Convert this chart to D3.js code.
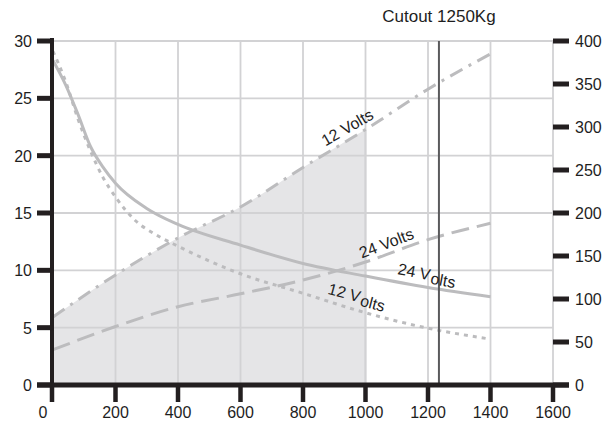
<!DOCTYPE html>
<html><head><meta charset="utf-8">
<script src="https://cdn.jsdelivr.net/npm/d3@7"></script>
<style>
html,body{margin:0;padding:0;background:#fff;}
svg{display:block;font-family:"Liberation Sans",Arial,Helvetica,sans-serif;}
</style></head>
<body>
<svg id="c" width="616" height="425"></svg>
<script>
// ---- data ----
const xTicks = [0,200,400,600,800,1000,1200,1400,1600];
const leftTicks = [0,5,10,15,20,25,30];
const rightTicks = [0,50,100,150,200,250,300,350,400];
const loadKg = [0,200,400,600,800,1000,1200,1400];
// right-axis series (dashed)
const dash12V = [79,128,171,207,253,297,344,385];
const dash24V = [41,68,91,106,122,143,169,188];
// left-axis series
const solid24X = [0,40,80,120,160,200,300,400,600,800,1000,1200,1400];
const solid24V = [28.3,26.2,23.6,20.8,19.0,17.6,15.4,14.0,12.2,10.6,9.5,8.5,7.7];
const dot12X = [0,40,80,120,160,200,265,330,400,600,800,1000,1200,1400];
const dot12V = [29.1,26.5,23.2,20.4,18.1,16.4,14.3,13.1,12.1,9.7,8.0,6.3,4.95,4.0];
const cutoutKg = 1235;
const shadeMaxKg = 1000;
const title = "Cutout 1250Kg";

// ---- scales ----
const svg = d3.select("#c");
const x = d3.scaleLinear().domain([0,1600]).range([53,553]);
const yL = d3.scaleLinear().domain([0,30]).range([385,41]);
const yR = d3.scaleLinear().domain([0,400]).range([385,41]);

const gridC = "#d2d2d4", lineC = "#bcbcbe", txtC = "#1e1e1e";

// grid
svg.append("g").selectAll("line").data(leftTicks.filter(d=>d>0)).join("line")
  .attr("x1",x(0)).attr("x2",x(1600)).attr("y1",d=>yL(d)).attr("y2",d=>yL(d))
  .attr("stroke",gridC).attr("stroke-width",1.8);
svg.append("g").selectAll("line").data(xTicks.filter(d=>d>0)).join("line")
  .attr("x1",d=>x(d)).attr("x2",d=>x(d)).attr("y1",yL(30)).attr("y2",yL(0))
  .attr("stroke",gridC).attr("stroke-width",1.8);

// shaded area
const pts12 = loadKg.map((k,i)=>[k,dash12V[i]]).filter(p=>p[0]<=shadeMaxKg);
const areaGen = d3.area().x(d=>x(d[0])).y0(yR(0)).y1(d=>yR(d[1])).curve(d3.curveMonotoneX);
svg.append("clipPath").attr("id","shadeClip").append("path").datum(pts12).attr("d", areaGen);
svg.append("path").datum(pts12).attr("d", areaGen).attr("fill","#e5e5e7");
// grid visible through the shading
const gShade = svg.append("g").attr("clip-path","url(#shadeClip)");
gShade.selectAll(".v").data(xTicks.filter(d=>d>0&&d<=shadeMaxKg)).join("line")
  .attr("x1",d=>x(d)).attr("x2",d=>x(d)).attr("y1",yL(30)).attr("y2",yL(0))
  .attr("stroke",gridC).attr("stroke-width",1.8);
gShade.selectAll(".h").data(leftTicks.filter(d=>d>0)).join("line")
  .attr("x1",x(0)).attr("x2",x(1600)).attr("y1",d=>yL(d)).attr("y2",d=>yL(d))
  .attr("stroke",gridC).attr("stroke-width",1.8);
svg.append("line").attr("x1",x(shadeMaxKg)).attr("x2",x(shadeMaxKg)).attr("y1",yR(pts12[pts12.length-1][1])).attr("y2",yL(0))
  .attr("stroke",gridC).attr("stroke-width",1.8);

// lines
const lineR = d3.line().x(d=>x(d[0])).y(d=>yR(d[1])).curve(d3.curveMonotoneX);
const lineL = d3.line().x(d=>x(d[0])).y(d=>yL(d[1])).curve(d3.curveMonotoneX);
svg.append("path").datum(loadKg.map((k,i)=>[k,dash12V[i]])).attr("d",lineR)
  .attr("fill","none").attr("stroke",lineC).attr("stroke-width",3).attr("stroke-dasharray","14,7,3,7");
svg.append("path").datum(loadKg.map((k,i)=>[k,dash24V[i]])).attr("d",lineR)
  .attr("fill","none").attr("stroke",lineC).attr("stroke-width",3).attr("stroke-dasharray","18,8");
svg.append("path").datum(solid24X.map((k,i)=>[k,solid24V[i]])).attr("d",lineL)
  .attr("fill","none").attr("stroke",lineC).attr("stroke-width",3);
svg.append("path").datum(dot12X.map((k,i)=>[k,dot12V[i]])).attr("d",lineL)
  .attr("fill","none").attr("stroke",lineC).attr("stroke-width",3).attr("stroke-dasharray","4,5");

// cutout line
svg.append("line").attr("x1",x(cutoutKg)).attr("x2",x(cutoutKg)).attr("y1",yL(30)).attr("y2",yL(0))
  .attr("stroke","#5a5a5c").attr("stroke-width",2);
svg.append("text").attr("x",x(cutoutKg)).attr("y",22).attr("text-anchor","middle")
  .attr("font-size",17).attr("fill",txtC).text(title);

// axes
const ax = svg.append("g");
ax.append("line").attr("x1",52).attr("x2",52).attr("y1",yL(30)-3).attr("y2",yL(0)+2.5)
  .attr("stroke","#231f20").attr("stroke-width",4);
ax.append("line").attr("x1",37).attr("x2",569).attr("y1",yL(0)).attr("y2",yL(0))
  .attr("stroke","#231f20").attr("stroke-width",5);
ax.selectAll(".lt").data(leftTicks).join("line").attr("x1",37).attr("x2",54)
  .attr("y1",d=>yL(d)).attr("y2",d=>yL(d)).attr("stroke","#231f20").attr("stroke-width",5);
ax.selectAll(".rt").data(rightTicks).join("line").attr("x1",x(1600)).attr("x2",569)
  .attr("y1",d=>yR(d)).attr("y2",d=>yR(d)).attr("stroke","#231f20").attr("stroke-width",5);
ax.selectAll(".bt").data(xTicks).join("line").attr("x1",d=>d===0?52:x(d)).attr("x2",d=>d===0?52:x(d))
  .attr("y1",yL(0)).attr("y2",402).attr("stroke","#231f20").attr("stroke-width",4.5);

ax.selectAll(".ll").data(leftTicks).join("text").attr("x",32).attr("y",d=>yL(d)+6)
  .attr("text-anchor","end").attr("font-size",16).attr("fill",txtC).text(d=>d);
ax.selectAll(".rl").data(rightTicks).join("text").attr("x",575).attr("y",d=>yR(d)+6)
  .attr("text-anchor","start").attr("font-size",16).attr("fill",txtC).text(d=>d);
ax.selectAll(".bl").data(xTicks).join("text").attr("x",d=>d===0?43:x(d)).attr("y",418)
  .attr("text-anchor","middle").attr("font-size",16).attr("fill",txtC).text(d=>d);

// curve labels
function lab(kx, vy, ang, parts){
  const t = svg.append("text").attr("transform",`translate(${x(kx)},${yL(vy)}) rotate(${ang})`)
    .attr("text-anchor","middle").attr("dominant-baseline","central").attr("font-size",16).attr("fill",txtC);
  parts.forEach(p=>t.append("tspan").attr("dy",p.dy||0).attr("dx",p.dx||0).text(p.t));
}
lab(941,22.5,-30,[{t:"12 Volts"}]);
lab(1066,12.4,-21,[{t:"24 Volts"}]);
lab(1197,9.7,11,[{t:"24 V"},{t:"olts",dx:2,dy:3}]);
lab(973,7.8,15,[{t:"12 V"},{t:"olts",dx:2,dy:3}]);
</script>
</body></html>
